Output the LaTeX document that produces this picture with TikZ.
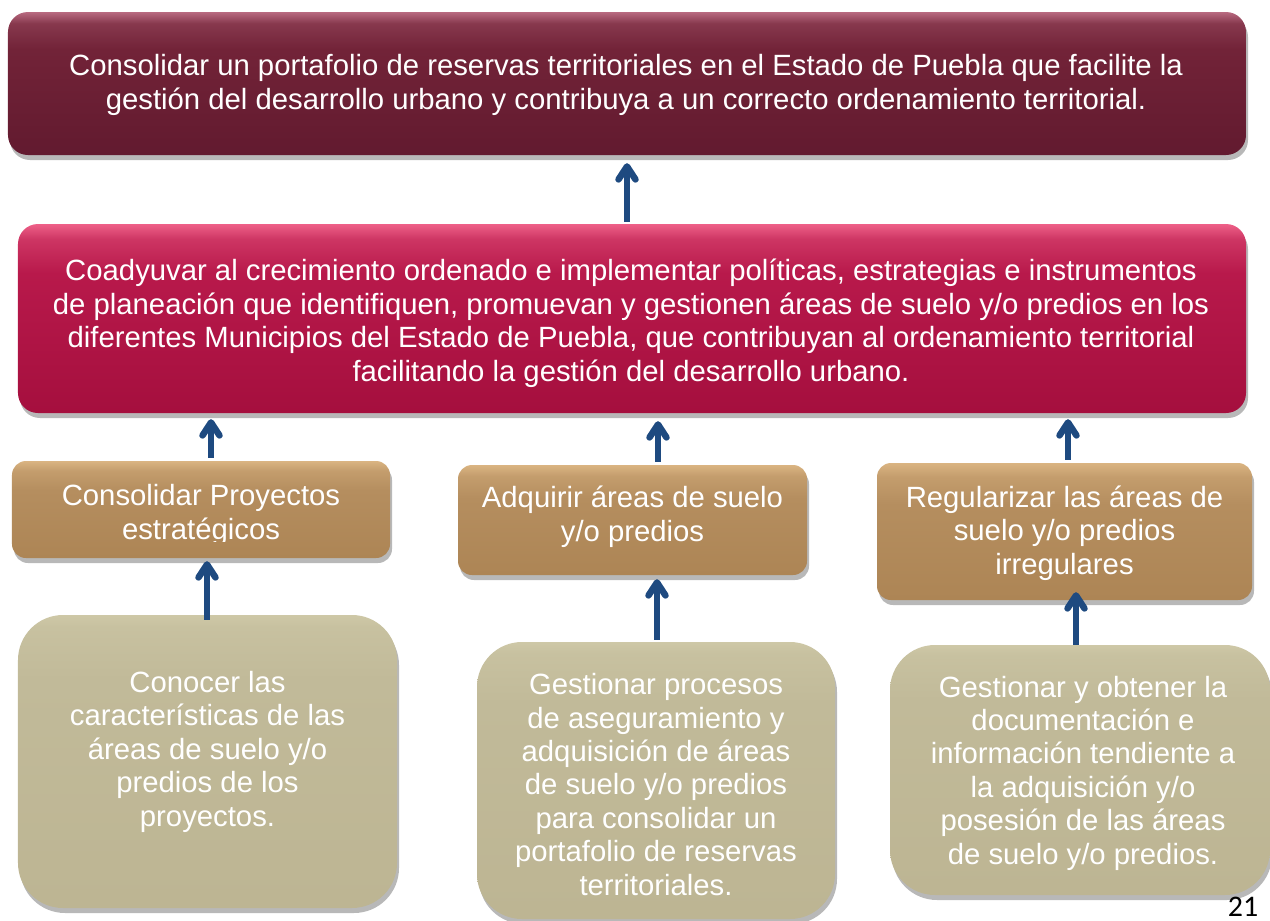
\documentclass[tikz,border=0pt]{standalone}
\usepackage{fontspec}
\setmainfont{Liberation Sans}
\newfontfamily\numfont{Carlito}
\usetikzlibrary{arrows.meta,shadows,calc}
\definecolor{mT}{HTML}{B86A80}
\definecolor{mM}{HTML}{722338}
\definecolor{mB}{HTML}{621A2F}
\definecolor{cT}{HTML}{EE6088}
\definecolor{cM}{HTML}{B8194B}
\definecolor{cB}{HTML}{A50F3E}
\definecolor{tT}{HTML}{DAB482}
\definecolor{tM}{HTML}{B58E5F}
\definecolor{tB}{HTML}{AD8555}
\definecolor{kT}{HTML}{CEC8A7}
\definecolor{kM}{HTML}{C1BA99}
\definecolor{kB}{HTML}{BDB593}
\definecolor{arrblue}{HTML}{1E4A80}
\pgfdeclareverticalshading{maroonsh}{100bp}{color(0bp)=(mB); color(25bp)=(mB); color(62bp)=(mM); color(71bp)=(mM!70!mT); color(75bp)=(mT); color(100bp)=(mT)}
\pgfdeclareverticalshading{crimsonsh}{100bp}{color(0bp)=(cB); color(25bp)=(cB); color(62bp)=(cM); color(71bp)=(cM!60!cT); color(75bp)=(cT); color(100bp)=(cT)}
\pgfdeclareverticalshading{tansh}{100bp}{color(0bp)=(tB); color(25bp)=(tB); color(60bp)=(tM); color(70bp)=(tM!60!tT); color(75bp)=(tT); color(100bp)=(tT)}
\pgfdeclareverticalshading{khakish}{100bp}{color(0bp)=(kB); color(25bp)=(kB); color(64bp)=(kM); color(73bp)=(kM!50!kT); color(75bp)=(kT); color(100bp)=(kT)}
\tikzset{
  boxbase/.style={inner sep=0pt,
    drop shadow={shadow xshift=2bp, shadow yshift=-5bp, opacity=0.28, fill=black}},
  topbox/.style={boxbase, shading=maroonsh, rounded corners=20bp},
  midbox/.style={boxbase, shading=crimsonsh, rounded corners=20bp},
  tanbox/.style={boxbase, shading=tansh, rounded corners=14bp},
  khakibox/.style={boxbase, shading=khakish, rounded corners=45bp},
  boxtext/.style={text=white, align=center, font=\fontsize{29.4}{33.5}\selectfont, inner sep=0pt, anchor=base},
  uparrow/.style={draw=arrblue, line width=5.5bp,
    -{Straight Barb[length=13bp,width=17bp,line width=6.5bp,round]}}
}
\begin{document}
\begin{tikzpicture}[x=1bp,y=-1bp]
\useasboundingbox (0,0) rectangle (1270,921);
\node[topbox, minimum width=1238bp, minimum height=143bp] (top) at (627,83.5) {};
\node[boxtext] (topt) at (626,109)
  {Consolidar un portafolio de reservas territoriales en el Estado de Puebla que facilite la\\
   gestión del desarrollo urbano y contribuya a un correcto ordenamiento territorial.};
\node[midbox, minimum width=1228bp, minimum height=189bp] (mid) at (632,318.5) {};
\node[boxtext] (midt) at (631,381)
  {Coadyuvar al crecimiento ordenado e implementar políticas, estrategias e instrumentos\\
   de planeación que identifiquen, promuevan y gestionen áreas de suelo y/o predios en los\\
   diferentes Municipios del Estado de Puebla, que contribuyan al ordenamiento territorial\\
   facilitando la gestión del desarrollo urbano.};
\node[tanbox, minimum width=378bp, minimum height=97bp] (tanL) at (201,509.5) {};
\begin{scope}
\clip (0,0) rectangle (1270,541);
\node[boxtext] (tanLt) at (201,539) {Consolidar Proyectos\\estratégicos};
\end{scope}
\node[tanbox, minimum width=349bp, minimum height=110bp] (tanM) at (632.5,520) {};
\node[boxtext] (tanMt) at (632.5,541) {Adquirir áreas de suelo\\y/o predios};
\node[tanbox, minimum width=375bp, minimum height=137bp] (tanR) at (1064.5,531.5) {};
\node[boxtext] (tanRt) at (1064.5,574) {Regularizar las áreas de\\suelo y/o predios\\irregulares};
\node[khakibox, minimum width=379bp, minimum height=293bp] (botL) at (207.5,761.5) {};
\node[boxtext] (botLt) at (207.5,826)
  {Conocer las\\características de las\\áreas de suelo y/o\\predios de los\\proyectos.};
\node[khakibox, minimum width=358bp, minimum height=277bp] (botM) at (656,780.5) {};
\node[boxtext] (botMt) at (656,895)
  {Gestionar procesos\\de aseguramiento y\\adquisición de áreas\\de suelo y/o predios\\para consolidar un\\portafolio de reservas\\territoriales.};
\node[khakibox, minimum width=380bp, minimum height=250bp] (botR) at (1080,770) {};
\node[boxtext] (botRt) at (1083,864)
  {Gestionar y obtener la\\documentación e\\información tendiente a\\la adquisición y/o\\posesión de las áreas\\de suelo y/o predios.};
\node[font=\numfont\fontsize{30}{34}\selectfont, anchor=base, inner sep=0pt] (pg) at (1243,916) {21};
% arrows
\draw[uparrow] ($(mid.north -| 627,0)+(0,-2)$) -- ($(top.south -| 627,0)+(0,8)$);
\draw[uparrow] ($(tanL.north -| 211,0)+(0,-3)$) -- ($(mid.south -| 211,0)+(0,6)$);
\draw[uparrow] ($(tanM.north -| 658,0)+(0,-3)$) -- ($(mid.south -| 658,0)+(0,8)$);
\draw[uparrow] ($(tanR.north -| 1068,0)+(0,-3)$) -- ($(mid.south -| 1068,0)+(0,6)$);
\draw[uparrow] ($(botL.north -| 207,0)+(0,5)$) -- ($(tanL.south -| 207,0)+(0,3)$);
\draw[uparrow] ($(botM.north -| 657,0)+(0,-2)$) -- ($(tanM.south -| 657,0)+(0,4)$);
\draw[uparrow] ($(botR.north -| 1076,0)+(0,0)$) -- ($(tanR.south -| 1076,0)+(0,-8)$);
\end{tikzpicture}
\end{document}
